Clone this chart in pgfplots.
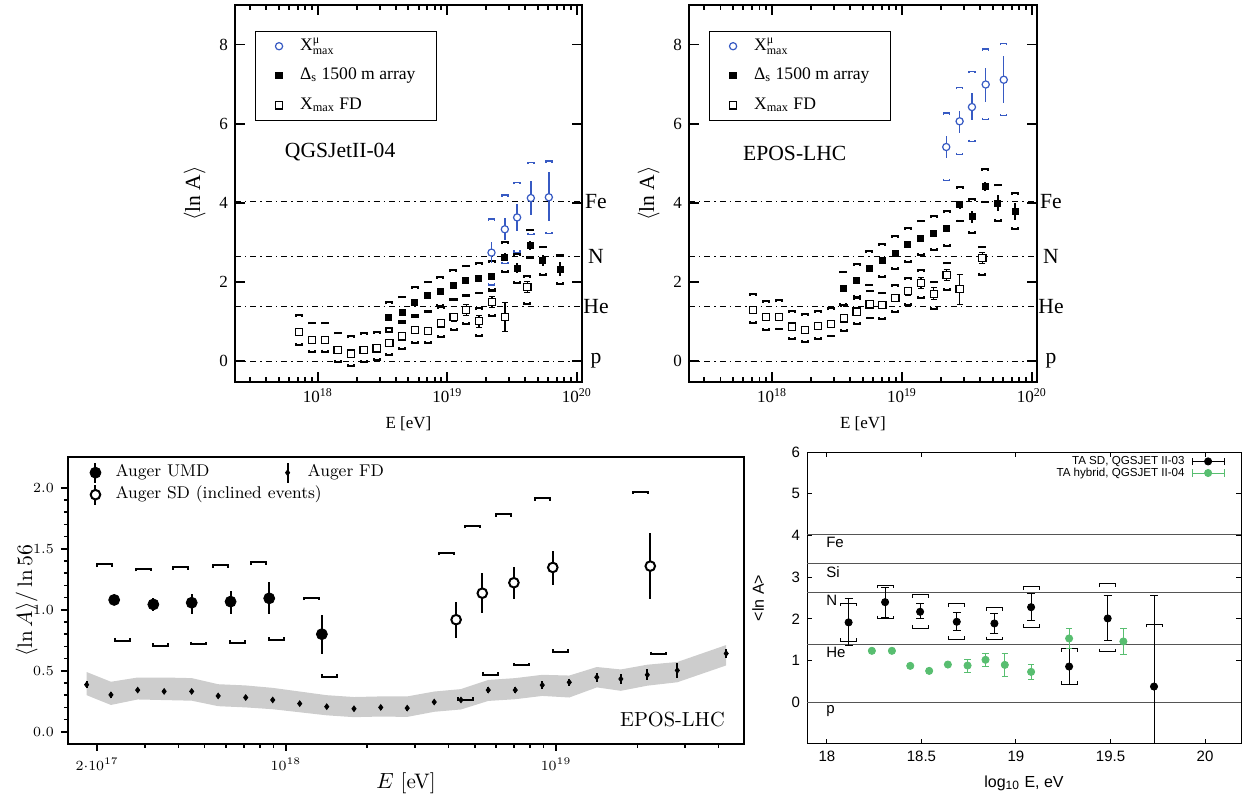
\documentclass[border=0pt]{standalone}
\usepackage{pgfplots}
\pgfplotsset{compat=1.18}
\usepackage{pgfplotstable}
\usepackage{fontspec}
\newfontfamily\timesf{Liberation Serif}
\newfontfamily\arialf{Liberation Sans}
\newcommand\tsz[1]{\fontsize{#1}{#1}\selectfont}
\newcommand\xmu{X\rlap{\raisebox{3.6pt}{\tsz{6}μ}}\raisebox{-2.2pt}{\tsz{6}max}}
\definecolor{augblue}{RGB}{55,90,195}
\definecolor{tagreen}{RGB}{88,190,112}
\definecolor{lgray}{RGB}{85,85,85}
\definecolor{bandgray}{RGB}{205,205,205}
\def\systick{1pt}
\pgfdeclareplotmark{stop}{%
  \pgfpathmoveto{\pgfqpoint{-\pgfplotmarksize}{-\systick}}%
  \pgfpathlineto{\pgfqpoint{-\pgfplotmarksize}{0pt}}%
  \pgfpathlineto{\pgfqpoint{\pgfplotmarksize}{0pt}}%
  \pgfpathlineto{\pgfqpoint{\pgfplotmarksize}{-\systick}}%
  \pgfusepathqstroke}
\pgfdeclareplotmark{sbot}{%
  \pgfpathmoveto{\pgfqpoint{-\pgfplotmarksize}{\systick}}%
  \pgfpathlineto{\pgfqpoint{-\pgfplotmarksize}{0pt}}%
  \pgfpathlineto{\pgfqpoint{\pgfplotmarksize}{0pt}}%
  \pgfpathlineto{\pgfqpoint{\pgfplotmarksize}{\systick}}%
  \pgfusepathqstroke}

% ---------------- QGSJetII-04 panel ----------------
\pgfplotstableread{
x y e t b
17.855 0.73 0.05 1.16 0.41
17.955 0.53 0.05 0.97 0.24
18.055 0.53 0.05 0.97 0.24
18.152 0.28 0.05 0.72 -0.02
18.254 0.19 0.05 0.62 -0.13
18.353 0.28 0.05 0.70 -0.03
18.453 0.32 0.05 0.74 0.03
18.553 0.46 0.05 0.84 0.15
18.651 0.62 0.06 1.00 0.30
18.751 0.78 0.06 1.16 0.46
18.850 0.76 0.08 1.27 0.45
18.950 0.95 0.08 1.37 0.60
19.048 1.11 0.10 1.56 0.78
19.146 1.29 0.14 1.66 0.94
19.245 1.01 0.15 1.33 0.63
19.344 1.49 0.14 1.78 1.14
19.444 1.12 0.36 nan nan
19.619 1.87 0.14 2.15 1.44
}\qfd
\pgfplotstableread{
x y e t b
18.548 1.10 0.03 1.48 0.73
18.651 1.23 0.03 1.63 0.95
18.749 1.48 0.03 1.87 1.12
18.847 1.65 0.03 2.01 1.25
18.947 1.77 0.03 2.13 1.39
19.045 1.91 0.03 2.29 1.54
19.143 2.03 0.03 2.41 1.65
19.243 2.09 0.04 2.47 1.71
19.344 2.15 0.05 2.53 1.80
19.444 2.62 0.10 3.00 2.26
19.539 2.35 0.12 2.71 1.98
19.639 2.92 0.12 3.32 2.60
19.737 2.54 0.15 2.89 2.18
19.871 2.32 0.18 2.68 1.95
}\qds
\pgfplotstableread{
x y ep em t b
19.341 2.74 0.26 0.26 3.59 1.92
19.444 3.33 0.28 0.27 4.20 2.47
19.539 3.63 0.34 0.34 4.51 2.75
19.645 4.12 0.42 0.42 5.02 3.20
19.784 4.14 0.63 0.61 5.06 3.22
}\qmu
% ---------------- EPOS-LHC panel ----------------
\pgfplotstableread{
x y e t b
17.855 1.29 0.05 1.70 0.97
17.955 1.11 0.05 1.52 0.78
18.055 1.12 0.05 1.53 0.80
18.152 0.87 0.05 1.27 0.55
18.254 0.78 0.05 1.19 0.49
18.353 0.89 0.05 1.27 0.55
18.453 0.94 0.05 1.33 0.62
18.553 1.08 0.05 1.42 0.76
18.651 1.25 0.06 1.60 0.94
18.751 1.43 0.06 1.78 1.08
18.850 1.42 0.08 1.73 1.06
18.950 1.60 0.08 1.92 1.25
19.048 1.77 0.10 2.09 1.42
19.146 1.97 0.14 2.29 1.60
19.245 1.70 0.15 2.01 1.31
19.344 2.18 0.14 2.49 1.80
19.444 1.82 0.38 nan nan
19.619 2.60 0.14 2.89 2.18
}\efd
\pgfplotstableread{
x y e t b
18.548 1.84 0.03 2.26 1.42
18.651 2.03 0.03 2.46 1.63
18.749 2.35 0.03 2.77 1.91
18.847 2.54 0.03 2.96 2.12
18.947 2.73 0.03 3.16 2.32
19.045 2.94 0.03 3.36 2.51
19.143 3.11 0.03 3.55 2.68
19.243 3.23 0.04 3.67 2.81
19.344 3.34 0.05 3.78 2.91
19.444 3.95 0.10 4.40 3.53
19.539 3.65 0.15 4.10 3.23
19.639 4.41 0.12 4.86 4.01
19.737 3.99 0.20 4.46 3.55
19.871 3.78 0.22 4.25 3.33
}\eds
\pgfplotstableread{
x y ep em t b
19.341 5.41 0.27 0.28 6.27 4.56
19.444 6.06 0.27 0.30 6.92 5.22
19.539 6.42 0.36 0.34 7.32 5.55
19.645 6.99 0.42 0.43 7.89 6.10
19.784 7.11 0.61 0.60 8.03 6.20
}\emu
% ---------------- Auger UMD / SD / FD panel ----------------
\pgfplotstableread{
x y ep em xt t xb b
17.364 1.081 0.02 0.02 17.327 1.372 17.394 0.748
17.509 1.044 0.05 0.05 17.471 1.336 17.537 0.706
17.651 1.058 0.07 0.09 17.611 1.350 17.678 0.717
17.795 1.067 0.09 0.10 17.756 1.364 17.821 0.731
17.938 1.094 0.13 0.13 17.900 1.390 17.966 0.753
18.133 0.800 0.156 0.16 18.095 1.100 18.160 0.453
}\umd
\pgfplotstableread{
x y ep em xt t xb b
18.630 0.919 0.148 0.147 18.593 1.467 18.666 0.261
18.727 1.136 0.164 0.166 18.690 1.689 18.756 0.469
18.844 1.222 0.128 0.136 18.807 1.786 18.873 0.544
18.988 1.347 0.136 0.144 18.951 1.917 19.017 0.656
19.349 1.358 0.275 0.272 19.311 1.969 19.379 0.636
}\sdi
\pgfplotstableread{
x y e
17.262 0.386 0.030
17.352 0.303 0.025
17.451 0.342 0.015
17.549 0.331 0.015
17.651 0.331 0.015
17.749 0.294 0.015
17.851 0.281 0.015
17.951 0.261 0.015
18.051 0.231 0.015
18.151 0.206 0.015
18.252 0.189 0.015
18.351 0.200 0.020
18.449 0.194 0.020
18.549 0.244 0.020
18.648 0.261 0.020
18.749 0.342 0.025
18.849 0.342 0.025
18.949 0.383 0.030
19.049 0.406 0.030
19.151 0.447 0.035
19.240 0.433 0.040
19.338 0.467 0.045
19.449 0.503 0.060
19.630 0.642 0.035
}\afd
% systematic band of Auger FD: upper edge left->right, then lower edge right->left
\pgfplotstableread{
x y
17.262 0.490
17.352 0.410
17.451 0.445
17.549 0.445
17.651 0.440
17.749 0.390
17.851 0.380
17.951 0.360
18.051 0.330
18.151 0.300
18.252 0.285
18.351 0.290
18.449 0.290
18.549 0.330
18.648 0.350
18.749 0.425
18.849 0.440
18.949 0.467
19.049 0.461
19.151 0.531
19.240 0.511
19.338 0.550
19.449 0.572
19.630 0.711
19.630 0.544
19.449 0.406
19.338 0.378
19.240 0.336
19.151 0.364
19.049 0.281
18.949 0.294
18.849 0.267
18.749 0.253
18.648 0.183
18.549 0.164
18.449 0.122
18.351 0.125
18.252 0.120
18.151 0.135
18.051 0.160
17.951 0.185
17.851 0.200
17.749 0.210
17.651 0.255
17.549 0.260
17.451 0.265
17.352 0.220
17.262 0.300
}\aband
% ---------------- TA panel ----------------
\pgfplotstableread{
x y ep em t b
18.115 1.915 0.575 0.565 2.38 1.46
18.308 2.40 0.36 0.36 2.81 2.00
18.493 2.17 0.20 0.17 2.58 1.78
18.687 1.93 0.23 0.22 2.36 1.51
18.886 1.89 0.23 0.24 2.27 1.50
19.080 2.28 0.32 0.31 2.77 1.79
19.281 0.857 0.433 0.427 1.29 0.43
19.485 2.01 0.55 0.54 2.84 1.21
19.730 0.377 2.19 2.50 1.875 nan
}\tasd
\pgfplotstableread{
x y e
18.238 1.234 0.03
18.344 1.234 0.03
18.441 0.873 0.03
18.541 0.753 0.03
18.640 0.905 0.04
18.744 0.881 0.155
18.839 1.018 0.155
18.941 0.897 0.27
19.080 0.729 0.18
19.281 1.530 0.25
19.568 1.458 0.31
}\tahy

\pgfplotsset{
  topstyle/.style={
    scale only axis, anchor=south west,
    xmin=17.36, xmax=20.04, ymin=-0.53, ymax=9,
    xtick={18,19,20},
    xticklabels={10\textsuperscript{18},10\textsuperscript{19},10\textsuperscript{20}},
    minor xtick={17.477,17.602,17.699,17.778,17.845,17.903,17.954,18.301,18.477,18.602,18.699,18.778,18.845,18.903,18.954,19.301,19.477,19.602,19.699,19.778,19.845,19.903,19.954},
    ytick={0,2,4,6,8},
    axis line style={line width=1.1pt},
    tick style={line width=0.9pt, black},
    major tick length=5pt, minor tick length=2.5pt,
    /pgf/number format/assume math mode=true,
    tick label style={font=\timesf\tsz{8.5}},
    xlabel={E [eV]}, ylabel={$\langle$ln A$\rangle$},
    xlabel style={font=\timesf\tsz{8.5}},
    ylabel style={font=\timesf\tsz{10.8}},
    clip mode=individual,
    legend cell align=left,
    reverse legend,
    legend style={anchor=north west, draw=black, line width=0.6pt, fill=white,
      font=\timesf\tsz{8.8}, inner xsep=3.2pt, inner ysep=1pt, row sep=1.8pt,
      nodes={inner sep=2pt, text height=6.5pt, text depth=2.5pt}},
  },
  refline/.style={black, line width=0.5pt, dash pattern=on 3pt off 2pt on 0.7pt off 2pt, forget plot},
  lgimg/.style={legend image code/.code={\path[draw=none,fill=none] (0cm,0cm) -- (0.6cm,0cm);
      \draw[##1] plot[only marks] coordinates {(0.3cm,0cm)};}},
  barimg/.style={legend image code/.code={\path[draw=none,fill=none] (0cm,0cm) -- (0.6cm,0cm);
      \draw[black, line width=1pt] (0.3cm,-5pt) -- (0.3cm,5pt);
      \draw[##1] plot[only marks] coordinates {(0.3cm,0cm)};}},
  taimg/.style={legend image code/.code={\draw[#1, line width=0.5pt] (0pt,0pt) -- (16pt,0pt) (0pt,-1.8pt) -- (0pt,1.8pt) (16pt,-1.8pt) -- (16pt,1.8pt);
      \draw[##1] plot[only marks] coordinates {(8pt,0pt)};}},
}

\begin{document}
\begin{tikzpicture}
\path[use as bounding box] (0,0) rectangle (624pt,398.5pt);

% ===================== Panel 1 =====================
\def\systick{0.9pt}
\begin{axis}[topstyle, at={(117.5pt,207.5pt)}, width=173.5pt, height=188.5pt,
  legend style={at={(rel axis cs:0.0576,0.932)}}]
\addplot[refline] coordinates {(17.36,4.025) (20.04,4.025)};
\addplot[refline] coordinates {(17.36,2.639) (20.04,2.639)};
\addplot[refline] coordinates {(17.36,1.386) (20.04,1.386)};
\addplot[refline] coordinates {(17.36,0) (20.04,0)};
\addplot[only marks, mark=stop, mark size=1.5pt, line width=1pt, black, forget plot] table[x=x,y=t] {\qfd};
\addplot[only marks, mark=sbot, mark size=1.5pt, line width=1pt, black, forget plot] table[x=x,y=b] {\qfd};
\addplot[only marks, mark=stop, mark size=1.5pt, line width=1pt, black, forget plot] table[x=x,y=t] {\qds};
\addplot[only marks, mark=sbot, mark size=1.5pt, line width=1pt, black, forget plot] table[x=x,y=b] {\qds};
\addplot[only marks, mark=stop, mark size=1.5pt, line width=0.7pt, augblue, forget plot] table[x=x,y=t] {\qmu};
\addplot[only marks, mark=sbot, mark size=1.5pt, line width=0.7pt, augblue, forget plot] table[x=x,y=b] {\qmu};
\addplot[lgimg, only marks, mark=square*, mark size=1.8pt, black, mark options={fill=white, line width=0.6pt},
  error bars/.cd, y dir=both, y explicit, error bar style={line width=0.7pt}, error mark options={rotate=90, mark size=1.5pt}]
  table[x=x,y=y,y error=e] {\qfd};
\addlegendentry{\makebox[63pt][l]{X\textsubscript{max} FD}}
\addplot[lgimg, only marks, mark=square*, mark size=1.5pt, black,
  error bars/.cd, y dir=both, y explicit, error bar style={line width=1pt}, error mark=none]
  table[x=x,y=y,y error=e] {\qds};
\addlegendentry{\makebox[63pt][l]{Δ\textsubscript{s} 1500 m array}}
\addplot[lgimg, only marks, mark=*, mark size=1.8pt, augblue, mark options={fill=white, line width=0.6pt},
  error bars/.cd, y dir=both, y explicit, error bar style={line width=0.7pt}, error mark=none]
  table[x=x,y=y,y error plus=ep,y error minus=em] {\qmu};
\addlegendentry{\makebox[63pt][l]{\xmu}}
\node[font=\timesf\tsz{10.8}, xshift=7pt] at (axis cs:20.04,4.025) {Fe};
\node[font=\timesf\tsz{10.8}, xshift=7pt] at (axis cs:20.04,2.639) {N};
\node[font=\timesf\tsz{10.8}, xshift=7pt] at (axis cs:20.04,1.386) {He};
\node[font=\timesf\tsz{10.8}, xshift=7pt] at (axis cs:20.04,0) {p};
\node[font=\timesf\tsz{10.8}] at (rel axis cs:0.303,0.611) {QGSJetII-04};
\end{axis}

% ===================== Panel 2 =====================
\begin{axis}[topstyle, at={(344.5pt,207.5pt)}, width=174pt, height=188.5pt,
  legend style={at={(rel axis cs:0.0575,0.932)}}]
\addplot[refline] coordinates {(17.36,4.025) (20.04,4.025)};
\addplot[refline] coordinates {(17.36,2.639) (20.04,2.639)};
\addplot[refline] coordinates {(17.36,1.386) (20.04,1.386)};
\addplot[refline] coordinates {(17.36,0) (20.04,0)};
\addplot[only marks, mark=stop, mark size=1.5pt, line width=1pt, black, forget plot] table[x=x,y=t] {\efd};
\addplot[only marks, mark=sbot, mark size=1.5pt, line width=1pt, black, forget plot] table[x=x,y=b] {\efd};
\addplot[only marks, mark=stop, mark size=1.5pt, line width=1pt, black, forget plot] table[x=x,y=t] {\eds};
\addplot[only marks, mark=sbot, mark size=1.5pt, line width=1pt, black, forget plot] table[x=x,y=b] {\eds};
\addplot[only marks, mark=stop, mark size=1.5pt, line width=0.7pt, augblue, forget plot] table[x=x,y=t] {\emu};
\addplot[only marks, mark=sbot, mark size=1.5pt, line width=0.7pt, augblue, forget plot] table[x=x,y=b] {\emu};
\addplot[lgimg, only marks, mark=square*, mark size=1.8pt, black, mark options={fill=white, line width=0.6pt},
  error bars/.cd, y dir=both, y explicit, error bar style={line width=0.7pt}, error mark options={rotate=90, mark size=1.5pt}]
  table[x=x,y=y,y error=e] {\efd};
\addlegendentry{\makebox[63pt][l]{X\textsubscript{max} FD}}
\addplot[lgimg, only marks, mark=square*, mark size=1.5pt, black,
  error bars/.cd, y dir=both, y explicit, error bar style={line width=1pt}, error mark=none]
  table[x=x,y=y,y error=e] {\eds};
\addlegendentry{\makebox[63pt][l]{Δ\textsubscript{s} 1500 m array}}
\addplot[lgimg, only marks, mark=*, mark size=1.8pt, augblue, mark options={fill=white, line width=0.6pt},
  error bars/.cd, y dir=both, y explicit, error bar style={line width=0.7pt}, error mark=none]
  table[x=x,y=y,y error plus=ep,y error minus=em] {\emu};
\addlegendentry{\makebox[63pt][l]{\xmu}}
\node[font=\timesf\tsz{10.8}, xshift=7pt] at (axis cs:20.04,4.025) {Fe};
\node[font=\timesf\tsz{10.8}, xshift=7pt] at (axis cs:20.04,2.639) {N};
\node[font=\timesf\tsz{10.8}, xshift=7pt] at (axis cs:20.04,1.386) {He};
\node[font=\timesf\tsz{10.8}, xshift=7pt] at (axis cs:20.04,0) {p};
\node[font=\timesf\tsz{10.8}] at (rel axis cs:0.304,0.607) {EPOS-LHC};
\end{axis}

% ===================== Panel 3 =====================
\def\systick{1.3pt}
\begin{axis}[at={(34pt,26.5pt)}, anchor=south west, scale only axis, width=338pt, height=141pt,
  xmin=17.193, xmax=19.696, ymin=-0.1, ymax=2.25,
  xtick={17.301,18,19}, xticklabels={$2{\cdot}10^{17}$,$10^{18}$,$10^{19}$},
  minor xtick={17.477,17.602,17.699,17.778,17.845,17.903,17.954,18.301,18.477,18.602,18.699,18.778,18.845,18.903,18.954,19.301,19.477,19.602},
  ytick={0,0.5,1,1.5,2}, minor y tick num=4,
  yticklabel style={/pgf/number format/.cd, fixed, fixed zerofill, precision=1},
  tick align=outside, xtick pos=lower, ytick pos=left,
  axis line style={line width=1pt}, tick style={line width=0.8pt, black},
  major tick length=3.5pt, minor tick length=2pt,
  tick label style={font=\tsz{7.3}},
  xlabel={$E$ [eV]}, ylabel={$\langle\ln A\rangle/\ln 56$},
  label style={font=\tsz{10.5}},
  xlabel shift=-6pt, ylabel shift=-9pt,
  clip mode=individual,
  legend columns=2, legend cell align=left,
  legend style={at={(rel axis cs:0,1)}, anchor=north west, draw=none, fill=none,
    font=\tsz{8.5}, inner xsep=5pt, inner ysep=2pt, row sep=0pt,
    nodes={inner sep=1.5pt, text height=6pt, text depth=2pt}},
]
\addplot[fill=bandgray, draw=none, forget plot] table[x=x,y=y] {\aband} -- cycle;
\addplot[only marks, mark=stop, mark size=3.75pt, line width=1pt, black, forget plot] table[x=xt,y=t] {\umd};
\addplot[only marks, mark=sbot, mark size=3.75pt, line width=1pt, black, forget plot] table[x=xb,y=b] {\umd};
\addplot[only marks, mark=stop, mark size=3.75pt, line width=1pt, black, forget plot] table[x=xt,y=t] {\sdi};
\addplot[only marks, mark=sbot, mark size=3.75pt, line width=1pt, black, forget plot] table[x=xb,y=b] {\sdi};
\addplot[barimg, only marks, mark=*, mark size=2.75pt, black,
  error bars/.cd, y dir=both, y explicit, error bar style={line width=1pt}, error mark=none]
  table[x=x,y=y,y error plus=ep,y error minus=em] {\umd};
\addlegendentry{\makebox[76pt][l]{Auger UMD}}
\addplot[barimg, only marks, mark=diamond*, mark size=1.4pt, black,
  error bars/.cd, y dir=both, y explicit, error bar style={line width=1pt}, error mark=none]
  table[x=x,y=y,y error=e] {\afd};
\addlegendentry{Auger FD}
\addplot[barimg, only marks, mark=*, mark size=2.4pt, black, mark options={fill=white, line width=1pt},
  error bars/.cd, y dir=both, y explicit, error bar style={line width=1pt}, error mark=none]
  table[x=x,y=y,y error plus=ep,y error minus=em] {\sdi};
\addlegendentry{\makebox[76pt][l]{Auger SD (inclined events)}}
\node[font=\tsz{10.2}, anchor=east] at (rel axis cs:0.982,0.085) {EPOS-LHC};
\end{axis}

% ===================== Panel 4 =====================
\def\systick{1.6pt}
\begin{axis}[at={(403.5pt,26.5pt)}, anchor=south west, scale only axis, width=217pt, height=146pt,
  xmin=17.895, xmax=20.19, ymin=-1, ymax=6,
  xtick={18,18.5,19,19.5,20}, ytick={0,1,2,3,4,5,6},
  /pgf/number format/assume math mode=true,
  axis line style={line width=0.5pt}, tick style={line width=0.5pt, black},
  major tick length=2.5pt,
  tick label style={font=\arialf\tsz{7.5}},
  xlabel={log\textsubscript{10} E, eV}, ylabel={<ln A>},
  label style={font=\arialf\tsz{8}},
  ylabel shift=7pt,
  clip mode=individual,
  legend plot pos=right, legend cell align=right,
  legend style={at={(rel axis cs:1,1)}, anchor=north east, draw=none, fill=none,
    font=\arialf\tsz{5.8}, inner xsep=8pt, inner ysep=1.6pt, row sep=0pt,
    nodes={inner sep=0pt, text height=4.4pt, text depth=1.4pt},
    /tikz/every odd column/.append style={column sep=3.5pt}},
]
\addplot[lgray, line width=0.6pt, forget plot] coordinates {(17.895,4.025) (20.19,4.025)};
\addplot[lgray, line width=0.6pt, forget plot] coordinates {(17.895,3.332) (20.19,3.332)};
\addplot[lgray, line width=0.6pt, forget plot] coordinates {(17.895,2.639) (20.19,2.639)};
\addplot[lgray, line width=0.6pt, forget plot] coordinates {(17.895,1.386) (20.19,1.386)};
\addplot[lgray, line width=0.6pt, forget plot] coordinates {(17.895,0) (20.19,0)};
\addplot[only marks, mark=stop, mark size=4pt, line width=0.5pt, black, forget plot] table[x=x,y=t] {\tasd};
\addplot[only marks, mark=sbot, mark size=4pt, line width=0.5pt, black, forget plot] table[x=x,y=b] {\tasd};
\addplot[taimg=black, only marks, mark=*, mark size=1.8pt, black,
  error bars/.cd, y dir=both, y explicit, error bar style={line width=0.5pt}, error mark options={rotate=90, mark size=2pt, line width=0.5pt}]
  table[x=x,y=y,y error plus=ep,y error minus=em] {\tasd};
\addlegendentry{TA SD, QGSJET II-03}
\addplot[taimg=tagreen, only marks, mark=*, mark size=1.8pt, tagreen,
  error bars/.cd, y dir=both, y explicit, error bar style={line width=0.5pt}, error mark options={rotate=90, mark size=1.6pt, line width=0.5pt}]
  table[x=x,y=y,y error=e] {\tahy};
\addlegendentry{TA hybrid, QGSJET II-04}
\node[font=\arialf\tsz{7.5}, anchor=west, inner sep=0pt] at (axis cs:17.995,3.825) {Fe};
\node[font=\arialf\tsz{7.5}, anchor=west, inner sep=0pt] at (axis cs:17.995,3.132) {Si};
\node[font=\arialf\tsz{7.5}, anchor=west, inner sep=0pt] at (axis cs:17.995,2.439) {N};
\node[font=\arialf\tsz{7.5}, anchor=west, inner sep=0pt] at (axis cs:17.995,1.186) {He};
\node[font=\arialf\tsz{7.5}, anchor=west, inner sep=0pt] at (axis cs:17.995,-0.2) {p};
\end{axis}
\end{tikzpicture}
\end{document}
